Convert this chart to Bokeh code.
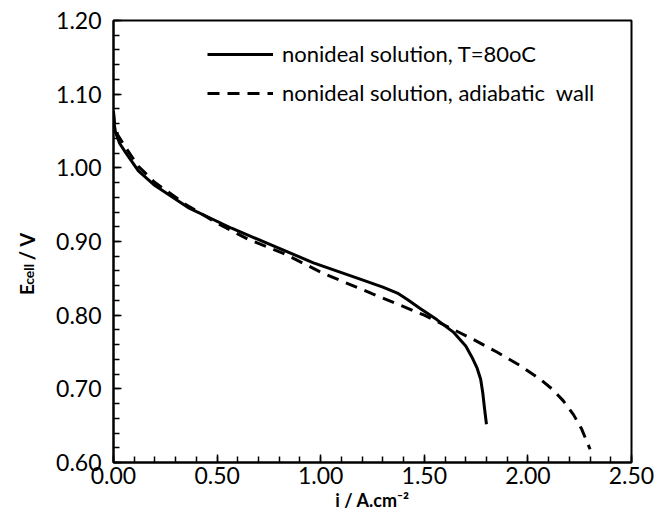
import math
from bokeh.plotting import figure
from bokeh.layouts import row
from bokeh.models import (Label, Legend, LegendItem, FixedTicker,
                          PrintfTickFormatter, Range1d)
from bokeh.embed import file_html
from bokeh.resources import INLINE

# ---- data ----
i_solid = [0.0, 0.003, 0.01, 0.03, 0.058, 0.12, 0.2, 0.36, 0.57, 0.806,
           0.965, 1.18, 1.30, 1.37, 1.42, 1.48, 1.56, 1.64, 1.70, 1.73,
           1.755, 1.772, 1.782, 1.79, 1.80]
e_solid = [1.077, 1.06, 1.048, 1.033, 1.021, 0.996, 0.976, 0.946, 0.918, 0.890,
           0.871, 0.850, 0.838, 0.830, 0.821, 0.809, 0.794, 0.777, 0.758, 0.743,
           0.728, 0.713, 0.695, 0.675, 0.652]

i_dash = [0.0, 0.005, 0.02, 0.06, 0.12, 0.2, 0.35, 0.5, 0.65, 0.82,
          1.01, 1.25, 1.5, 1.73, 1.85, 1.96, 2.06, 2.12, 2.17, 2.22, 2.26, 2.30]
e_dash = [1.075, 1.06, 1.045, 1.027, 1.002, 0.980, 0.950, 0.925, 0.903, 0.884,
          0.857, 0.829, 0.800, 0.768, 0.750, 0.732, 0.713, 0.699, 0.684, 0.665,
          0.645, 0.618]

series_labels = ["nonideal solution, T=80oC", "nonideal solution, adiabatic  wall"]
x_title = "i / A.cm\u207b\u00b2"
y_title_parts = ["E", "cell", "/ V"]
x_ticks = [0.0, 0.5, 1.0, 1.5, 2.0, 2.5]
y_ticks = [0.6, 0.7, 0.8, 0.9, 1.0, 1.1, 1.2]
x_minor = [k / 10 for k in range(0, 26)]
y_minor = [0.6 + k * 0.02 for k in range(0, 31)]

FONT = "Lato"
LEFT_W = 40      # width of the y-title strip
H = 520

p = figure(width=670 - LEFT_W, height=H, output_backend="svg",
           toolbar_location=None,
           x_range=Range1d(0, 2.5), y_range=Range1d(0.6, 1.2),
           min_border_left=113 - LEFT_W, min_border_right=39,
           min_border_top=20, min_border_bottom=58)
p.grid.visible = False
p.outline_line_color = "black"
p.outline_line_width = 2
p.background_fill_color = "white"
p.border_fill_color = "white"

for ax in (p.xaxis[0], p.yaxis[0]):
    ax.axis_line_width = 2
    ax.axis_line_color = "black"
    ax.major_tick_in = 8
    ax.major_tick_out = 0
    ax.minor_tick_in = 6
    ax.minor_tick_out = 0
    ax.major_tick_line_width = 1.5
    ax.minor_tick_line_width = 1.5
    ax.major_tick_line_color = "black"
    ax.minor_tick_line_color = "black"
    ax.major_label_text_font = FONT
    ax.major_label_text_font_size = "23px"
    ax.major_label_text_color = "black"
    ax.formatter = PrintfTickFormatter(format="%.2f")

p.yaxis[0].axis_label = None
p.xaxis[0].axis_label = x_title
p.xaxis[0].axis_label_text_font = FONT
p.xaxis[0].axis_label_text_font_style = "bold"
p.xaxis[0].axis_label_text_font_size = "18px"
p.xaxis[0].axis_label_text_color = "black"
p.xaxis[0].axis_label_standoff = 2

p.xaxis[0].ticker = FixedTicker(ticks=x_ticks, minor_ticks=x_minor)
p.yaxis[0].ticker = FixedTicker(ticks=y_ticks, minor_ticks=y_minor)
p.xaxis[0].major_label_standoff = 4
p.yaxis[0].major_label_standoff = 12

r1 = p.line(i_solid, e_solid, line_color="black", line_width=3)
r2 = p.line(i_dash, e_dash, line_color="black", line_width=3, line_dash="12 8")

legend = Legend(items=[LegendItem(label=series_labels[0], renderers=[r1]),
                       LegendItem(label=series_labels[1], renderers=[r2])],
                location=(94, 356), orientation="vertical")
legend.border_line_color = None
legend.background_fill_alpha = 0
legend.padding = 0
legend.margin = 0
legend.spacing = 12
legend.glyph_width = 66
legend.glyph_height = 20
legend.label_height = 20
legend.label_standoff = 9
legend.label_text_font = FONT
legend.label_text_font_size = "22px"
legend.label_text_color = "black"
p.add_layout(legend, "center")

# ---- y-title strip: E_cell / V (bold, rotated) ----
yt = figure(width=LEFT_W, height=H, output_backend="svg",
            toolbar_location=None, x_range=Range1d(0, LEFT_W),
            y_range=Range1d(0, H), min_border=0,
            x_axis_location=None, y_axis_location=None)
yt.grid.visible = False
yt.outline_line_color = None
yt.border_fill_color = "white"
yt.background_fill_color = "white"

def ty(t):  # strip coordinate for a given pixel-from-top (empirical offset)
    return H - t - 25

common = dict(angle=math.pi / 2, text_font=FONT, text_font_style="bold",
              text_color="black", text_align="left", text_baseline="alphabetic")
yt.add_layout(Label(x=26, y=ty(298), text=y_title_parts[0],
                    text_font_size="19px", **common))
yt.add_layout(Label(x=28, y=ty(286), text=y_title_parts[1],
                    text_font_size="14px", **common))
yt.add_layout(Label(x=26, y=ty(257), text=y_title_parts[2],
                    text_font_size="20px", **common))

layout = row(yt, p, spacing=0)
open("out.html", "w").write(file_html(layout, INLINE))
